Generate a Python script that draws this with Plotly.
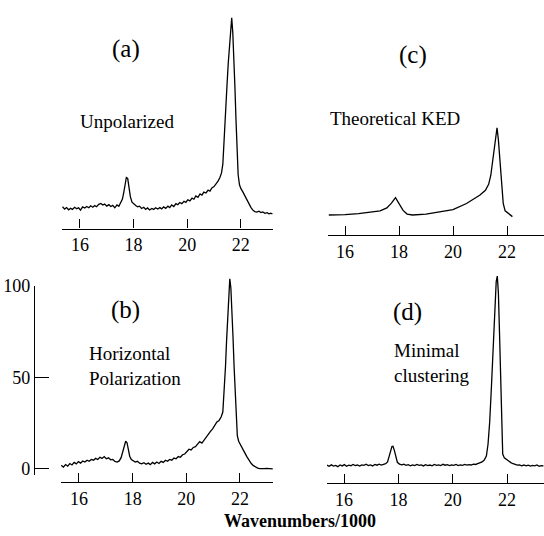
import plotly.graph_objects as go

# ---------------- data (intensity, arbitrary units; x = wavenumbers/1000) ----------------
a_x = [15.35, 15.43, 15.5, 15.58, 15.65, 15.72, 15.8, 15.88, 15.95, 16.02, 16.1, 16.18, 16.25, 16.33,
       16.4, 16.48, 16.55, 16.62, 16.7, 16.78, 16.85, 16.92, 17.0, 17.08, 17.15, 17.22, 17.3, 17.38,
       17.45, 17.52, 17.58, 17.63, 17.68, 17.73, 17.78, 17.83, 17.88, 17.94, 18.0, 18.08, 18.15, 18.22,
       18.3, 18.38, 18.45, 18.52, 18.6, 18.68, 18.75, 18.82, 18.9, 18.98, 19.05, 19.12, 19.2, 19.28,
       19.35, 19.42, 19.5, 19.58, 19.65, 19.72, 19.8, 19.88, 19.95, 20.02, 20.1, 20.18, 20.25, 20.32,
       20.4, 20.48, 20.55, 20.62, 20.7, 20.78, 20.85, 20.92, 21.0, 21.08, 21.15, 21.22, 21.28, 21.33,
       21.38, 21.43, 21.48, 21.53, 21.58, 21.62, 21.66, 21.7, 21.74, 21.78, 21.82, 21.86, 21.9, 21.95,
       22.0, 22.08, 22.15, 22.22, 22.3, 22.38, 22.45, 22.52, 22.6, 22.68, 22.75, 22.82, 22.9, 22.98,
       23.05, 23.12, 23.18]
a_y = [4.5, 3.2, 4.0, 2.8, 3.6, 3.0, 4.2, 3.4, 3.9, 2.6, 4.4, 3.8, 4.6, 3.9,
       5.0, 4.2, 5.1, 4.5, 5.8, 6.3, 5.4, 5.9, 4.8, 5.6, 4.6, 5.2, 3.9, 5.5,
       4.7, 6.5, 8.5, 12.0, 17.0, 20.5, 20.0, 15.0, 10.0, 7.0, 6.0, 5.2, 4.4, 4.8,
       3.5, 4.2, 3.0, 3.8, 2.7, 3.5, 3.0, 3.9, 3.2, 4.0, 3.3, 4.4, 3.6, 4.8,
       4.0, 5.5, 4.6, 6.2, 5.6, 6.8, 6.2, 7.5, 6.9, 8.3, 7.7, 9.2, 8.6, 10.4,
       9.6, 11.5, 10.8, 12.5, 12.0, 13.6, 13.0, 14.8, 15.5, 16.8, 18.5, 20.5, 23.0, 28.0,
       40.0, 56.0, 70.0, 83.0, 95.0, 104.0, 108.0, 100.0, 87.0, 70.0, 52.0, 34.0, 22.0, 16.5,
       14.5, 12.5, 10.5, 8.2, 6.0, 4.0, 2.6, 1.8, 1.5, 2.0, 1.3, 1.6, 0.9, 1.2,
       0.6, 0.9, 0.5]

b_x = [15.34, 15.42, 15.5, 15.58, 15.66, 15.74, 15.82, 15.9, 15.98, 16.06, 16.14, 16.22, 16.3,
       16.38, 16.46, 16.54, 16.62, 16.7, 16.78, 16.86, 16.94, 17.02, 17.1, 17.18, 17.26, 17.34,
       17.42, 17.5, 17.57, 17.63, 17.69, 17.74, 17.79, 17.84, 17.89, 17.95, 18.02, 18.1, 18.18,
       18.26, 18.34, 18.42, 18.5, 18.58, 18.66, 18.74, 18.82, 18.9, 18.98, 19.06, 19.14, 19.22,
       19.3, 19.38, 19.46, 19.54, 19.62, 19.7, 19.78, 19.86, 19.94, 20.02, 20.1, 20.18, 20.26,
       20.34, 20.42, 20.5, 20.58, 20.66, 20.74, 20.82, 20.9, 20.98, 21.06, 21.14, 21.22, 21.3,
       21.36, 21.41, 21.46, 21.5, 21.54, 21.58, 21.62, 21.66, 21.7, 21.74, 21.78, 21.82, 21.86,
       21.9, 21.95, 22.02, 22.1, 22.18, 22.26, 22.34, 22.42, 22.5, 22.58, 22.66, 22.74, 22.82,
       22.9, 22.98, 23.06, 23.14, 23.22]
b_y = [1.8, 0.8, 2.2, 1.4, 2.8, 2.0, 3.4, 2.6, 3.8, 3.0, 4.2, 3.6, 4.6,
       4.0, 5.0, 4.6, 5.6, 5.0, 6.2, 5.6, 6.6, 5.4, 5.9, 4.8, 5.0, 3.9,
       3.6, 4.2, 6.0, 9.5, 13.5, 15.0, 14.2, 10.5, 6.8, 5.0, 4.2, 3.6, 4.0,
       3.0, 2.6, 3.2, 2.4, 3.0, 2.2, 3.4, 2.6, 3.6, 2.8, 4.0, 3.4, 4.6,
       4.0, 5.0, 4.6, 5.8, 5.4, 6.6, 6.2, 7.6, 8.0, 9.6, 10.6, 10.2, 11.6,
       12.0, 13.6, 14.8, 14.0, 15.6, 17.6, 19.4, 20.4, 21.8, 24.0, 25.6, 26.4, 28.4,
       31.0, 42.0, 56.0, 70.0, 84.0, 96.0, 104.0, 99.0, 88.0, 72.0, 56.0, 40.0, 28.0,
       18.0, 15.0, 12.8, 10.6, 8.6, 6.4, 4.4, 2.8, 1.6, 0.8, 0.3, 0.0, 0.2,
       0.0, 0.1, -0.1, 0.0, -0.2]

c_x = [15.4, 15.8, 16.0, 16.5, 17.0, 17.3, 17.55, 17.72, 17.87, 18.0, 18.15, 18.3, 18.5, 19.0,
       19.5, 20.0, 20.5, 20.8, 21.0, 21.2, 21.32, 21.4, 21.48, 21.55, 21.63, 21.68, 21.74, 21.8,
       21.86, 21.93, 22.05, 22.2]
c_y = [3.7, 3.8, 3.9, 4.5, 5.3, 6.0, 7.6, 10.2, 13.2, 10.0, 6.2, 4.2, 3.7, 4.2,
       5.2, 6.6, 10.0, 12.6, 14.6, 17.2, 20.5, 25.5, 34.0, 44.0, 51.5, 45.0, 33.0, 20.0,
       10.0, 6.0, 4.6, 2.8]

d_x = [15.37, 15.45, 15.53, 15.61, 15.69, 15.77, 15.85, 15.93, 16.01, 16.09, 16.17, 16.25, 16.33,
       16.41, 16.49, 16.57, 16.65, 16.73, 16.81, 16.89, 16.97, 17.05, 17.13, 17.21, 17.29, 17.37,
       17.45, 17.53, 17.6, 17.66, 17.71, 17.76, 17.8, 17.85, 17.9, 17.96, 18.04, 18.12, 18.2,
       18.28, 18.36, 18.44, 18.52, 18.6, 18.68, 18.76, 18.84, 18.92, 19.0, 19.08, 19.16, 19.24,
       19.32, 19.4, 19.48, 19.56, 19.64, 19.72, 19.8, 19.88, 19.96, 20.04, 20.12, 20.2, 20.28,
       20.36, 20.44, 20.52, 20.6, 20.68, 20.76, 20.84, 20.92, 21.0, 21.08, 21.16, 21.24, 21.3,
       21.36, 21.42, 21.47, 21.52, 21.56, 21.6, 21.64, 21.68, 21.72, 21.76, 21.8, 21.84, 21.9,
       21.98, 22.06, 22.14, 22.22, 22.3, 22.38, 22.46, 22.54, 22.62, 22.7, 22.78, 22.86, 22.94,
       23.02, 23.1, 23.18, 23.26, 23.34]
d_y = [2.4, 1.8, 2.6, 1.9, 2.3, 1.6, 2.5, 2.0, 2.7, 1.8, 2.4, 2.1, 2.8,
       2.2, 2.5, 1.9, 2.6, 2.3, 2.9, 2.2, 2.6, 2.0, 2.8, 2.4, 3.0, 2.5,
       2.9, 3.2, 4.2, 6.8, 10.0, 12.6, 12.8, 10.5, 6.6, 4.0, 3.0, 2.6, 2.9,
       2.3, 2.7, 2.1, 2.6, 2.2, 2.8, 2.3, 2.6, 2.0, 2.7, 2.2, 2.5, 2.1,
       2.8, 2.3, 2.6, 2.2, 2.9, 2.4, 2.7, 2.2, 2.6, 2.3, 2.8, 2.2, 2.6,
       2.3, 2.8, 2.4, 2.7, 2.5, 3.0, 2.8, 3.3, 3.6, 4.2, 5.2, 7.5, 14.0,
       26.0, 44.0, 62.0, 80.0, 94.0, 103.0, 106.0, 97.0, 76.0, 48.0, 18.0, 8.5, 6.4,
       5.4, 4.6, 3.8, 3.2, 2.8, 2.4, 2.6, 2.1, 2.5, 2.0, 2.4, 1.9, 2.3,
       2.0, 2.5, 1.8, 2.2, 2.0]

panel_labels = ["(a)", "(c)", "(b)", "(d)"]
panel_notes = ["Unpolarized", "Theoretical KED", "Horizontal<br>Polarization", "Minimal<br>clustering"]
x_ticks = [16, 18, 20, 22]
y_ticks = [0, 50, 100]
x_title = "Wavenumbers/1000"

# ---------------- layout helpers ----------------
W, H = 544, 536
PXU = 1.87  # pixels per intensity unit (common to all panels)


def px_x(p):
    return p / W


def px_y(p):
    return 1 - p / H


FONT = "Liberation Serif, Times New Roman, serif"

fig = go.Figure()
line = dict(color="black", width=1.3)
fig.add_trace(go.Scatter(x=a_x, y=a_y, mode="lines", line=line, xaxis="x", yaxis="y", hoverinfo="skip"))
fig.add_trace(go.Scatter(x=c_x, y=c_y, mode="lines", line=line, xaxis="x2", yaxis="y2", hoverinfo="skip"))
fig.add_trace(go.Scatter(x=b_x, y=b_y, mode="lines", line=line, xaxis="x3", yaxis="y3", hoverinfo="skip"))
fig.add_trace(go.Scatter(x=d_x, y=d_y, mode="lines", line=line, xaxis="x4", yaxis="y4", hoverinfo="skip"))
# scale-bar axis (only axis shown for intensity)
fig.add_trace(go.Scatter(x=[0], y=[0], mode="markers", marker=dict(opacity=0), xaxis="x5", yaxis="y5",
                         hoverinfo="skip"))


def xaxis(dom, rng, anchor):
    return dict(domain=dom, range=rng, anchor=anchor, showline=True, linecolor="black", linewidth=1.3,
                ticks="inside", ticklen=9, tickwidth=1.3, tickcolor="black", tickvals=x_ticks,
                showgrid=False, zeroline=False, tickfont=dict(family=FONT, size=18, color="black"),
                fixedrange=True)


def yaxis(bottom_px, top_px, zero_px, anchor):
    return dict(domain=[px_y(bottom_px), px_y(top_px)],
                range=[(zero_px - bottom_px) / PXU, (zero_px - top_px) / PXU],
                anchor=anchor, visible=False, fixedrange=True)


fig.update_layout(
    width=W, height=H, margin=dict(l=0, r=0, t=0, b=0),
    paper_bgcolor="white", plot_bgcolor="rgba(0,0,0,0)", showlegend=False,
    xaxis=xaxis([px_x(62), px_x(273)], [15.33, 23.2], "y"),
    yaxis=yaxis(224, 0, 210, "x"),
    xaxis2=xaxis([px_x(328), 1.0], [15.37, 23.37], "y2"),
    yaxis2=yaxis(231, 0, 217, "x2"),
    xaxis3=xaxis([px_x(61), px_x(273)], [15.33, 23.23], "y3"),
    yaxis3=yaxis(484, 262, 470, "x3"),
    xaxis4=xaxis([px_x(327), 1.0], [15.37, 23.36], "y4"),
    yaxis4=yaxis(485, 262, 471, "x4"),
    xaxis5=dict(domain=[px_x(35), px_x(45)], anchor="y5", visible=False, range=[-1, 1], fixedrange=True),
    yaxis5=dict(domain=[px_y(477), px_y(283)], range=[(470 - 477) / PXU, 100], anchor="x5",
                showline=True, linecolor="black", linewidth=1.3, ticks="inside", ticklen=14,
                tickwidth=1.3, tickcolor="black", tickvals=y_ticks, showgrid=False, zeroline=False,
                tickfont=dict(family=FONT, size=18, color="black"), fixedrange=True),
)

label_pos = [(126, 40), (413, 46), (125, 307), (407, 309)]
for t, (x, y) in zip(panel_labels, label_pos):
    fig.add_annotation(text=t, x=px_x(x), y=px_y(y), xref="paper", yref="paper", showarrow=False,
                       font=dict(family=FONT, size=25, color="black"), xanchor="center", yanchor="middle")

note_pos = [(78, 114), (328, 111), (87, 365), (392, 362)]
for t, (x, y) in zip(panel_notes, note_pos):
    fig.add_annotation(text=t, x=px_x(x), y=px_y(y), xref="paper", yref="paper", showarrow=False,
                       align="left", font=dict(family=FONT, size=19, color="black"),
                       xanchor="left", yanchor="middle")

fig.add_annotation(text=x_title, x=px_x(300), y=px_y(524), xref="paper", yref="paper", showarrow=False,
                   font=dict(family=FONT, size=18, color="black", weight="bold"),
                   xanchor="center", yanchor="middle")

fig.write_html("out.html", config={"displayModeBar": False},
               post_script="document.body.style.margin='0px';document.body.style.overflow='hidden';")
